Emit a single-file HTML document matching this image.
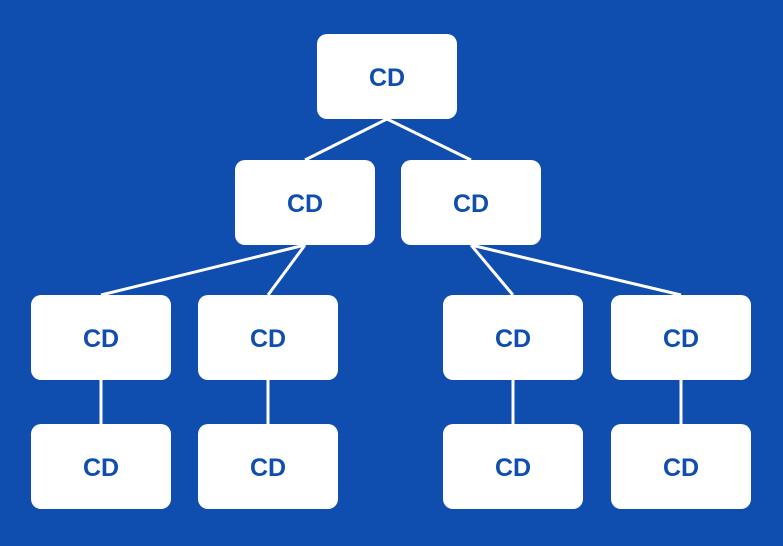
<!DOCTYPE html>
<html><head><style>
html,body{margin:0;padding:0;}
body{width:783px;height:546px;background:#0f4daf;overflow:hidden;}
svg{display:block}
text{font-family:"Liberation Sans",sans-serif;font-weight:bold;font-size:25px;fill:#0f4daf;}
</style></head><body>
<svg width="783" height="546" viewBox="0 0 783 546">
<g stroke="#fff" stroke-width="3" fill="none">
<line x1="387" y1="119" x2="305" y2="160"/>
<line x1="387" y1="119" x2="471" y2="160"/>
<line x1="305" y1="245" x2="101" y2="295"/>
<line x1="305" y1="245" x2="268" y2="295"/>
<line x1="471" y1="245" x2="513" y2="295"/>
<line x1="471" y1="245" x2="681" y2="295"/>
<line x1="101" y1="380" x2="101" y2="424"/>
<line x1="268" y1="380" x2="268" y2="424"/>
<line x1="513" y1="380" x2="513" y2="424"/>
<line x1="681" y1="380" x2="681" y2="424"/>
</g>
<g fill="#fff">
<rect x="317" y="34" width="140" height="85" rx="10"/>
<rect x="235" y="160" width="140" height="85" rx="10"/>
<rect x="401" y="160" width="140" height="85" rx="10"/>
<rect x="31" y="295" width="140" height="85" rx="10"/>
<rect x="198" y="295" width="140" height="85" rx="10"/>
<rect x="443" y="295" width="140" height="85" rx="10"/>
<rect x="611" y="295" width="140" height="85" rx="10"/>
<rect x="31" y="424" width="140" height="85" rx="10"/>
<rect x="198" y="424" width="140" height="85" rx="10"/>
<rect x="443" y="424" width="140" height="85" rx="10"/>
<rect x="611" y="424" width="140" height="85" rx="10"/>
</g>
<g text-anchor="middle">
<text x="387" y="86">CD</text>
<text x="305" y="212">CD</text>
<text x="471" y="212">CD</text>
<text x="101" y="347">CD</text>
<text x="268" y="347">CD</text>
<text x="513" y="347">CD</text>
<text x="681" y="347">CD</text>
<text x="101" y="476">CD</text>
<text x="268" y="476">CD</text>
<text x="513" y="476">CD</text>
<text x="681" y="476">CD</text>
</g>
</svg>
</body></html>
